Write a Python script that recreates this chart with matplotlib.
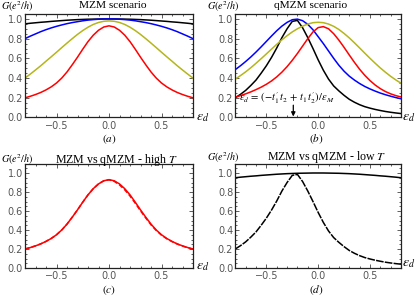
import matplotlib
matplotlib.use("Agg")
import matplotlib.pyplot as plt
from matplotlib.ticker import MultipleLocator

plt.rcParams['mathtext.fontset'] = 'stix'

# ---------------- data ----------------
eps = [-0.8, -0.75, -0.7, -0.65, -0.6, -0.55, -0.5, -0.45, -0.4, -0.35, -0.3,
       -0.25, -0.2, -0.15, -0.1, -0.05, 0.0, 0.05, 0.1, 0.15, 0.2, 0.25, 0.3,
       0.35, 0.4, 0.45, 0.5, 0.55, 0.6, 0.65, 0.7, 0.75, 0.8]

# (a) MZM scenario
mzm_black = [0.950, 0.956, 0.961, 0.966, 0.970, 0.975, 0.979, 0.983, 0.987, 0.990, 0.993,
             0.995, 0.997, 0.998, 0.999, 1.000, 1.000, 1.000, 0.999, 0.998, 0.997, 0.995,
             0.993, 0.990, 0.987, 0.983, 0.979, 0.975, 0.970, 0.966, 0.961, 0.956, 0.950]
mzm_blue = [0.800, 0.825, 0.848, 0.871, 0.891, 0.909, 0.925, 0.939, 0.952, 0.963, 0.972,
            0.981, 0.988, 0.993, 0.997, 0.999, 1.000, 0.999, 0.997, 0.993, 0.988, 0.981,
            0.972, 0.963, 0.952, 0.939, 0.925, 0.909, 0.891, 0.871, 0.848, 0.825, 0.800]
mzm_olive = [0.400, 0.440, 0.482, 0.525, 0.571, 0.616, 0.662, 0.709, 0.755, 0.800, 0.843,
             0.882, 0.916, 0.944, 0.964, 0.976, 0.980, 0.976, 0.964, 0.944, 0.916, 0.882,
             0.843, 0.800, 0.755, 0.709, 0.662, 0.616, 0.571, 0.525, 0.482, 0.440, 0.400]
mzm_red = [0.200, 0.215, 0.233, 0.254, 0.280, 0.311, 0.350, 0.400, 0.462, 0.535, 0.612,
           0.693, 0.770, 0.835, 0.885, 0.918, 0.930, 0.918, 0.885, 0.835, 0.770, 0.693,
           0.612, 0.535, 0.462, 0.400, 0.350, 0.311, 0.280, 0.254, 0.233, 0.215, 0.200]

# (b) qMZM scenario
qmzm_black = [0.200, 0.235, 0.275, 0.325, 0.380, 0.450, 0.525, 0.610, 0.705, 0.810, 0.900,
              0.975, 0.985, 0.910, 0.810, 0.700, 0.585, 0.480, 0.390, 0.320, 0.270, 0.225,
              0.185, 0.155, 0.130, 0.110, 0.095, 0.082, 0.071, 0.061, 0.053, 0.046, 0.040]
qmzm_blue = [0.486, 0.525, 0.568, 0.614, 0.664, 0.717, 0.772, 0.827, 0.880, 0.927, 0.965,
             0.992, 0.998, 0.982, 0.945, 0.890, 0.820, 0.750, 0.675, 0.600, 0.530, 0.470,
             0.420, 0.380, 0.345, 0.315, 0.290, 0.268, 0.248, 0.231, 0.216, 0.202, 0.190]
qmzm_olive = [0.390, 0.425, 0.463, 0.505, 0.550, 0.597, 0.645, 0.694, 0.742, 0.788, 0.830,
              0.868, 0.900, 0.927, 0.948, 0.962, 0.966, 0.962, 0.948, 0.925, 0.893, 0.853,
              0.808, 0.758, 0.706, 0.653, 0.601, 0.551, 0.503, 0.459, 0.418, 0.381, 0.348]
qmzm_red = [0.205, 0.222, 0.240, 0.260, 0.283, 0.308, 0.337, 0.371, 0.412, 0.460, 0.516,
            0.580, 0.650, 0.725, 0.800, 0.868, 0.912, 0.922, 0.900, 0.850, 0.785, 0.712,
            0.635, 0.560, 0.490, 0.428, 0.375, 0.330, 0.293, 0.263, 0.240, 0.222, 0.208]

# (c) high T: MZM (solid) vs qMZM (dashed)
highT_mzm = mzm_red
highT_qmzm = [0.200, 0.215, 0.233, 0.254, 0.280, 0.311, 0.350, 0.400, 0.462, 0.535, 0.612,
              0.693, 0.770, 0.835, 0.885, 0.918, 0.928, 0.912, 0.875, 0.823, 0.758, 0.682,
              0.602, 0.527, 0.455, 0.395, 0.346, 0.308, 0.278, 0.252, 0.231, 0.214, 0.198]

# (d) low T: MZM (solid) vs qMZM (dashed)
lowT_mzm = mzm_black
lowT_qmzm = qmzm_black

xticks = [-0.5, 0.0, 0.5]
yticks = [0.0, 0.2, 0.4, 0.6, 0.8, 1.0]

BLUE = '#0000ff'
OLIVE = '#b5b51c'
RED = '#ff0000'
BLACK = '#000000'

W, H = 415, 300
fig = plt.figure(figsize=(W / 100, H / 100), dpi=100)


def px_ax(l, t, r, b):
    return fig.add_axes([l / W, 1 - b / H, (r - l) / W, (b - t) / H])


def style(ax, ytop):
    ax.set_xlim(-0.8, 0.8)
    ax.set_ylim(0, ytop)
    ax.set_xticks(xticks)
    ax.set_yticks(yticks)
    ax.set_xticklabels(['\u22120.5', '0.0', '0.5'])
    ax.set_yticklabels(['%.1f' % v for v in yticks])
    ax.xaxis.set_minor_locator(MultipleLocator(0.1))
    ax.yaxis.set_minor_locator(MultipleLocator(0.05))
    ax.tick_params(which='both', direction='in', top=True, right=True,
                   color='#444444', width=0.6)
    ax.tick_params(which='major', length=3.0)
    ax.tick_params(which='minor', length=1.5)
    ax.tick_params(axis='both', labelsize=7.0, labelcolor='#555555')
    ax.tick_params(axis='x', pad=2.2)
    ax.tick_params(axis='y', pad=1.5)
    for s in ax.spines.values():
        s.set_color('#222222')
        s.set_linewidth(0.9)


def ftext(x, y, s, **kw):
    fig.text(x / W, 1 - y / H, s, **kw)


LW = 1.1
serif = 'Liberation Serif'

# ---- (a)
axa = px_ax(25, 14, 193, 117.5)
style(axa, 1.05)
axa.plot(eps, mzm_black, color=BLACK, lw=LW)
axa.plot(eps, mzm_blue, color=BLUE, lw=LW)
axa.plot(eps, mzm_olive, color=OLIVE, lw=LW)
axa.plot(eps, mzm_red, color=RED, lw=LW)

# ---- (b)
axb = px_ax(235.3, 14, 401, 117.5)
style(axb, 1.05)
axb.plot(eps, qmzm_black, color=BLACK, lw=LW)
axb.plot(eps, qmzm_blue, color=BLUE, lw=LW)
axb.plot(eps, qmzm_olive, color=OLIVE, lw=LW)
axb.plot(eps, qmzm_red, color=RED, lw=LW)
axb.annotate('', xy=(-0.24, 0.01), xytext=(-0.24, 0.125),
             arrowprops=dict(arrowstyle='-|>', color='black', lw=0.9,
                             mutation_scale=6, shrinkA=0, shrinkB=0))
axb.text(-0.765, 0.2,
         r"$\epsilon_d\,=\,(-t_1^{\prime}\,t_2\,+\,t_1\,t_2^{\prime})/\epsilon_M$",
         fontsize=7.6, ha='left', va='center')

# ---- (c)
axc = px_ax(25, 163.5, 193, 268)
style(axc, 1.1)
axc.plot(eps, highT_mzm, color=RED, lw=LW)
axc.plot(eps, highT_qmzm, color=RED, lw=LW, ls=(0, (3, 1.5)))

# ---- (d)
axd = px_ax(235.3, 163.5, 401, 268)
style(axd, 1.1)
axd.plot(eps, lowT_mzm, color=BLACK, lw=LW)
axd.plot(eps, lowT_qmzm, color=BLACK, lw=LW, ls=(0, (5, 0.8)))

# ---- texts
for (gx, gy) in [(0.5, 6.5), (207, 6.5), (0.5, 160), (207, 158)]:
    ftext(gx, gy, r"$G(e^2/h)$", fontsize=7.3, ha='left', va='center')

ftext(112.5, 5.5, 'MZM scenario', family=serif, fontsize=8.2, ha='center', va='center')
ftext(311, 5.5, 'qMZM scenario', family=serif, fontsize=8.2, ha='center', va='center')
ftext(116.7, 159.5, r'MZM vs qMZM - high $T$', family=serif, fontsize=8.6,
      ha='center', va='center')
ftext(326.7, 157, r'MZM vs qMZM - low $T$', family=serif, fontsize=8.6,
      ha='center', va='center')

for (ex, ey) in [(196, 118), (402, 118), (196, 267), (402, 264)]:
    ftext(ex, ey, r"$\epsilon_d$", fontsize=10, ha='left', va='center')

for (lx, ly, s) in [(109, 139, '(a)'), (316, 139, '(b)'),
                    (109, 290, '(c)'), (316, 290, '(d)')]:
    ftext(lx, ly, r"$%s$" % s, fontsize=8.0, ha='center', va='center')

fig.savefig('out.png', dpi=100)
